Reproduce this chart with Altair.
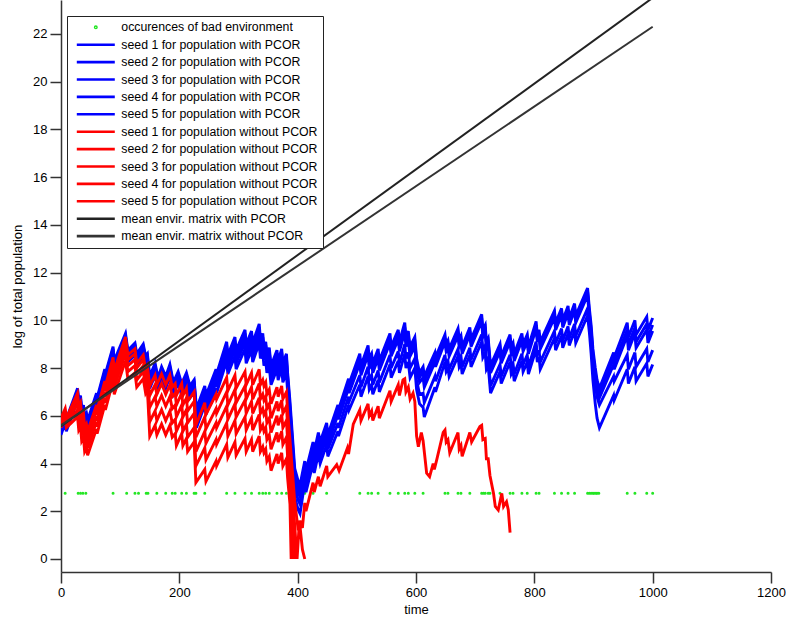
import altair as alt
import pandas as pd

# ---- runs with PCOR: shared time vertices, one value list per seed ----
pcor_time = [
    0, 7, 9, 28, 30, 33, 35, 38, 40, 43, 45, 60, 61, 74, 75, 88, 90, 109, 113, 125, 128, 139, 143, 146,
    150, 159, 164, 170, 177, 184, 190, 198, 204, 212, 218, 225,
    229, 243, 245, 262, 263, 280, 282, 294, 296, 311, 313, 322, 324, 335, 337, 341, 343, 346, 348,
    352, 355, 365, 367, 373, 375, 381, 383,
    387, 395, 401, 404,
    412, 414, 426, 428, 435, 438, 449, 451, 468, 469, 486, 487,
    505, 507, 519, 521, 525, 527, 536, 538, 556, 558, 570, 572, 581, 583, 587, 590, 598, 601, 606,
    612, 614, 632, 633,
    649, 651, 654, 656, 671, 673, 676, 678, 691, 693, 711, 713, 717, 719, 722, 726, 742, 744,
    759, 761, 764, 766, 779, 781, 788, 790, 803, 805, 808, 810, 834, 836, 846, 848, 857, 859,
    868, 870, 890,
    893, 896, 899, 903, 906, 910,
    934, 935, 957, 959, 970, 972, 990, 992, 1000,
]
pcor_seed1 = [
    5.70, 6.20, 5.85, 7.15, 6.65, 6.85, 6.25, 6.45, 5.95, 6.10, 5.80, 6.95, 6.75, 7.95, 7.75, 8.90, 8.30, 9.45, 8.75, 9.05, 8.60, 9.00, 8.50, 8.60,
    7.65, 8.20, 7.60, 8.05, 7.65, 8.15, 7.40, 7.85, 7.35, 7.80, 7.25, 7.50,
    6.30, 7.25, 6.85, 7.95, 7.75, 9.10, 8.55, 9.30, 8.75, 9.60, 9.00, 9.55, 9.05, 9.85, 9.20, 9.45, 8.90, 9.10, 8.60,
    8.85, 8.10, 8.75, 8.30, 8.80, 8.20, 8.60, 7.80,
    6.60, 3.80, 3.25, 3.10,
    4.10, 3.70, 4.90, 4.50, 5.30, 4.90, 5.70, 5.20, 6.45, 6.25, 7.55, 7.35,
    8.60, 8.10, 8.95, 8.40, 8.60, 8.20, 8.80, 8.30, 9.45, 8.90, 9.60, 9.10, 9.90, 9.30, 9.55, 8.90, 9.30, 8.40, 7.80,
    8.05, 7.65, 8.65, 8.45,
    9.40, 9.00, 9.15, 8.80, 9.65, 9.20, 9.35, 8.90, 9.70, 9.20, 10.25, 9.60, 9.80, 9.10, 9.25, 8.10, 9.00, 8.50,
    9.40, 8.90, 9.05, 8.60, 9.45, 9.00, 9.40, 8.90, 9.95, 9.40, 9.60, 9.10, 10.40, 9.90, 10.50, 10.00, 10.60, 10.10,
    10.70, 10.20, 11.35,
    10.50, 9.80, 8.80, 8.00, 7.50, 7.15,
    8.65, 8.45, 9.90, 9.30, 10.00, 9.40, 10.15, 9.60, 10.10,
]
pcor_seed2 = [
    5.60, 6.10, 5.75, 7.05, 6.55, 6.75, 6.15, 6.35, 5.85, 6.00, 5.70, 6.85, 6.65, 7.85, 7.65, 8.80, 8.20, 9.35, 8.65, 8.95, 8.50, 8.90, 8.40, 8.50,
    7.55, 8.10, 7.50, 7.95, 7.55, 8.05, 7.30, 7.75, 7.25, 7.70, 7.15, 7.40,
    6.15, 7.10, 6.70, 7.80, 7.60, 8.95, 8.40, 9.15, 8.60, 9.45, 8.85, 9.40, 8.90, 9.70, 9.05, 9.30, 8.75, 8.95, 8.45,
    8.70, 7.95, 8.60, 8.15, 8.65, 8.05, 8.45, 7.65,
    6.35, 3.55, 3.00, 2.85,
    3.90, 3.50, 4.70, 4.30, 5.10, 4.70, 5.50, 5.00, 6.25, 6.05, 7.35, 7.15,
    8.40, 7.90, 8.75, 8.20, 8.40, 8.00, 8.60, 8.10, 9.25, 8.70, 9.40, 8.90, 9.70, 9.10, 9.35, 8.70, 9.10, 8.20, 7.60,
    7.85, 7.45, 8.45, 8.25,
    9.25, 8.85, 9.00, 8.65, 9.50, 9.05, 9.20, 8.75, 9.55, 9.05, 10.10, 9.45, 9.65, 8.95, 9.10, 7.95, 8.85, 8.35,
    9.25, 8.75, 8.90, 8.45, 9.30, 8.85, 9.25, 8.75, 9.80, 9.25, 9.45, 8.95, 10.25, 9.75, 10.35, 9.85, 10.45, 9.95,
    10.55, 10.05, 11.20,
    10.30, 9.60, 8.60, 7.80, 7.30, 6.95,
    8.40, 8.20, 9.60, 9.00, 9.70, 9.10, 9.85, 9.30, 9.80,
]
pcor_seed3 = [
    5.50, 6.00, 5.65, 6.95, 6.45, 6.65, 6.05, 6.25, 5.75, 5.90, 5.60, 6.75, 6.55, 7.75, 7.55, 8.70, 8.10, 9.25, 8.55, 8.85, 8.40, 8.80, 8.30, 8.40,
    7.45, 8.00, 7.40, 7.85, 7.45, 7.95, 7.20, 7.65, 7.15, 7.60, 7.05, 7.30,
    5.95, 6.90, 6.50, 7.60, 7.40, 8.75, 8.20, 8.95, 8.40, 9.25, 8.65, 9.20, 8.70, 9.50, 8.85, 9.10, 8.55, 8.75, 8.25,
    8.50, 7.75, 8.40, 7.95, 8.45, 7.85, 8.25, 7.45,
    6.10, 3.30, 2.75, 2.60,
    3.70, 3.30, 4.50, 4.10, 4.90, 4.50, 5.30, 4.80, 6.05, 5.85, 7.15, 6.95,
    8.20, 7.70, 8.55, 8.00, 8.20, 7.80, 8.40, 7.90, 9.05, 8.50, 9.20, 8.70, 9.50, 8.90, 9.15, 8.50, 8.90, 8.00, 7.40,
    7.60, 7.20, 8.25, 8.05,
    9.10, 8.70, 8.85, 8.50, 9.35, 8.90, 9.05, 8.60, 9.40, 8.90, 9.95, 9.30, 9.50, 8.80, 8.95, 7.80, 8.70, 8.20,
    9.10, 8.60, 8.75, 8.30, 9.15, 8.70, 9.10, 8.60, 9.65, 9.10, 9.30, 8.80, 10.10, 9.60, 10.20, 9.70, 10.30, 9.80,
    10.40, 9.90, 11.05,
    10.10, 9.40, 8.40, 7.60, 7.10, 6.75,
    8.15, 7.95, 9.35, 8.75, 9.45, 8.85, 9.60, 9.05, 9.55,
]
pcor_seed4 = [
    5.35, 5.85, 5.50, 6.80, 6.30, 6.50, 5.90, 6.10, 5.60, 5.75, 5.45, 6.60, 6.40, 7.60, 7.40, 8.55, 7.95, 9.10, 8.40, 8.70, 8.25, 8.65, 8.15, 8.25,
    7.30, 7.85, 7.25, 7.70, 7.30, 7.80, 7.05, 7.50, 7.00, 7.45, 6.90, 7.15,
    5.75, 6.70, 6.30, 7.40, 7.20, 8.55, 8.00, 8.75, 8.20, 9.05, 8.45, 9.00, 8.50, 9.30, 8.65, 8.90, 8.35, 8.55, 8.05,
    8.30, 7.55, 8.20, 7.75, 8.25, 7.65, 8.05, 7.25,
    5.80, 3.00, 2.45, 2.30,
    3.50, 3.10, 4.30, 3.90, 4.70, 4.30, 5.10, 4.60, 5.70, 5.50, 6.80, 6.60,
    7.70, 7.20, 8.05, 7.50, 7.70, 7.30, 7.90, 7.40, 8.55, 8.00, 8.70, 8.20, 9.00, 8.40, 8.65, 8.00, 8.40, 7.50, 6.90,
    6.95, 6.55, 7.65, 7.45,
    8.55, 8.15, 8.30, 7.95, 8.80, 8.35, 8.50, 8.05, 8.85, 8.35, 9.40, 8.75, 8.95, 8.25, 8.40, 7.25, 8.15, 7.65,
    8.55, 8.05, 8.20, 7.75, 8.60, 8.15, 8.55, 8.05, 9.10, 8.55, 8.75, 8.25, 9.55, 9.05, 9.65, 9.15, 9.75, 9.25,
    9.85, 9.35, 10.50,
    9.80, 9.10, 8.10, 7.30, 6.80, 6.45,
    7.65, 7.45, 8.55, 7.95, 8.65, 8.05, 8.80, 8.25, 8.75,
]
pcor_seed5 = [
    5.20, 5.70, 5.35, 6.65, 6.15, 6.35, 5.75, 5.95, 5.45, 5.60, 5.30, 6.45, 6.25, 7.45, 7.25, 8.40, 7.80, 8.95, 8.25, 8.55, 8.10, 8.50, 8.00, 8.10,
    7.15, 7.70, 7.10, 7.55, 7.15, 7.65, 6.90, 7.35, 6.85, 7.30, 6.75, 7.00,
    5.50, 6.45, 6.05, 7.15, 6.95, 8.30, 7.75, 8.50, 7.95, 8.80, 8.20, 8.75, 8.25, 9.05, 8.40, 8.65, 8.10, 8.30, 7.80,
    8.05, 7.30, 7.95, 7.50, 8.00, 7.40, 7.80, 7.00,
    5.40, 2.60, 2.05, 1.90,
    3.20, 2.80, 4.00, 3.60, 4.40, 4.00, 4.80, 4.30, 5.35, 5.15, 6.45, 6.25,
    7.30, 6.80, 7.65, 7.10, 7.30, 6.90, 7.50, 7.00, 8.15, 7.60, 8.30, 7.80, 8.60, 8.00, 8.25, 7.60, 8.00, 7.10, 6.50,
    6.35, 5.95, 7.20, 7.00,
    8.25, 7.85, 8.00, 7.65, 8.50, 8.05, 8.20, 7.75, 8.55, 8.05, 9.10, 8.45, 8.65, 7.95, 8.10, 6.95, 7.85, 7.35,
    8.25, 7.75, 7.90, 7.45, 8.30, 7.85, 8.25, 7.75, 8.80, 8.25, 8.45, 7.95, 9.25, 8.75, 9.35, 8.85, 9.45, 8.95,
    9.55, 9.05, 10.20,
    9.50, 8.60, 7.50, 6.50, 5.90, 5.50,
    6.85, 6.65, 7.95, 7.35, 8.05, 7.45, 8.20, 7.65, 8.15,
]

# ---- runs without PCOR: common vertices up to the collapse, then each run's own tail ----
nopcor_time_head = [
    0, 7, 9, 28, 30, 33, 35, 38, 40, 43, 45, 60, 61, 74, 75, 88, 90, 109, 113, 125, 128, 139, 143, 146,
    150, 159, 162, 170, 177, 184, 188, 193, 195, 204, 206, 212, 214, 225, 228,
    243, 245, 262, 263, 280, 282, 294, 296, 311, 313, 322, 324, 335, 337, 341, 343, 346, 348, 352, 355,
    365, 367, 373, 375, 381, 383,
]
nopcor_seed1_head = [
    5.90, 6.30, 5.90, 6.95, 6.40, 6.55, 5.95, 6.10, 5.50, 5.65, 5.35, 6.45, 6.25, 7.45, 7.25, 8.45, 7.90, 9.30, 8.55, 8.80, 8.20, 8.55, 7.95, 8.10,
    7.25, 7.70, 7.30, 7.75, 7.30, 7.70, 7.20, 7.35, 6.85, 7.35, 6.85, 7.15, 6.60, 7.00, 5.60,
    6.55, 6.05, 6.90, 6.70, 7.60, 7.05, 7.70, 7.15, 7.85, 7.30, 7.80, 7.30, 7.95, 7.30, 7.50, 7.25, 7.40, 6.90, 7.10, 6.50,
    7.20, 6.80, 7.25, 6.70, 7.00, 6.20,
]
nopcor_seed2_head = [
    5.80, 6.20, 5.80, 6.75, 6.20, 6.35, 5.75, 5.90, 5.30, 5.45, 5.15, 6.25, 6.05, 7.25, 7.05, 8.25, 7.70, 9.10, 8.35, 8.60, 8.00, 8.35, 7.75, 7.90,
    6.85, 7.30, 6.90, 7.35, 6.90, 7.30, 6.80, 6.95, 6.45, 6.95, 6.45, 6.75, 6.20, 6.60, 5.10,
    5.95, 5.45, 6.30, 6.10, 7.00, 6.45, 7.10, 6.55, 7.25, 6.70, 7.20, 6.70, 7.35, 6.70, 6.90, 6.65, 6.80, 6.30, 6.50, 5.90,
    6.60, 6.20, 6.65, 6.10, 6.40, 5.60,
]
nopcor_seed3_head = [
    5.70, 6.10, 5.70, 6.50, 5.95, 6.10, 5.50, 5.65, 5.05, 5.20, 4.90, 6.00, 5.80, 7.00, 6.80, 8.00, 7.45, 8.85, 8.10, 8.35, 7.75, 8.10, 7.50, 7.65,
    6.35, 6.80, 6.40, 6.85, 6.40, 6.80, 6.30, 6.45, 5.95, 6.45, 5.95, 6.25, 5.70, 6.10, 4.50,
    5.35, 4.85, 5.70, 5.50, 6.40, 5.85, 6.50, 5.95, 6.65, 6.10, 6.60, 6.10, 6.75, 6.10, 6.30, 6.05, 6.20, 5.70, 5.90, 5.30,
    6.00, 5.60, 6.05, 5.50, 5.80, 5.00,
]
nopcor_seed4_head = [
    5.60, 6.00, 5.60, 6.25, 5.70, 5.85, 5.25, 5.40, 4.80, 4.95, 4.65, 5.75, 5.55, 6.75, 6.55, 7.75, 7.20, 8.60, 7.85, 8.10, 7.50, 7.85, 7.25, 7.40,
    5.75, 6.20, 5.80, 6.25, 5.80, 6.20, 5.70, 5.85, 5.35, 5.85, 5.35, 5.65, 5.10, 5.50, 3.90,
    4.65, 4.15, 5.00, 4.80, 5.70, 5.15, 5.80, 5.25, 5.95, 5.40, 5.90, 5.40, 6.05, 5.40, 5.60, 5.35, 5.50, 5.00, 5.20, 4.60,
    5.30, 4.90, 5.35, 4.80, 5.10, 4.30,
]
nopcor_seed5_head = [
    5.50, 5.90, 5.50, 5.95, 5.40, 5.55, 4.95, 5.10, 4.50, 4.65, 4.35, 5.45, 5.25, 6.45, 6.25, 7.45, 6.90, 8.30, 7.55, 7.80, 7.20, 7.55, 6.95, 7.10,
    5.15, 5.60, 5.20, 5.65, 5.20, 5.60, 5.10, 5.25, 4.75, 5.25, 4.75, 5.05, 4.50, 4.90, 3.20,
    3.75, 3.25, 4.10, 3.90, 4.80, 4.25, 4.90, 4.35, 5.05, 4.50, 5.00, 4.50, 5.15, 4.50, 4.70, 4.45, 4.60, 4.10, 4.30, 3.70,
    4.40, 4.00, 4.45, 3.90, 4.20, 3.40,
]

nopcor_seed1_tail_time = [
    387, 395, 401, 404, 408, 412, 414, 426, 428, 435, 438, 449, 451, 466, 470, 484, 486, 494,
    505, 507, 519, 521, 525, 527, 536, 538, 556, 558, 570, 572, 578, 581, 583, 587, 590, 595, 598,
    601, 604, 609, 612, 618, 623, 629, 631, 635, 646, 649, 651, 654, 657, 671, 673, 676, 678,
    691, 694, 708, 711, 713, 717, 719, 722, 725, 731, 734, 739, 745, 748, 753, 756, 759,
]
nopcor_seed1_tail = [
    5.00, 2.40, 1.20, 1.60, 1.30, 2.35, 2.00, 3.20, 2.80, 3.45, 3.05, 3.90, 3.45, 3.95, 3.70, 4.65, 4.40, 5.65,
    6.25, 5.80, 6.50, 6.00, 6.20, 5.80, 6.40, 5.90, 7.05, 6.60, 7.30, 6.85, 7.50, 7.55, 7.00, 7.20, 6.70, 6.95, 6.60,
    5.15, 4.70, 5.30, 4.95, 3.60, 3.45, 4.00, 3.75, 4.15, 5.30, 5.40, 4.90, 5.00, 4.45, 5.30, 4.60, 4.75, 4.30,
    5.30, 4.90, 5.55, 5.60, 5.00, 5.05, 4.20, 4.20, 3.50, 2.75, 2.20, 2.05, 2.75, 2.20, 2.40, 2.05, 1.10,
]
nopcor_seed2_tail_time = [387, 395, 399, 403, 408, 412]
nopcor_seed2_tail = [4.40, 1.40, 0.00, 1.60, 0.40, 0.00]
nopcor_seed3_tail_time = [387, 393, 396]
nopcor_seed3_tail = [3.80, 1.00, 0.00]
nopcor_seed4_tail_time = [387, 390, 392]
nopcor_seed4_tail = [3.10, 1.00, 0.00]
nopcor_seed5_tail_time = [387, 389]
nopcor_seed5_tail = [2.30, 0.00]

# ---- growth under the mean environment matrix (straight lines) ----
mean_time = [0, 1000]
mean_with_pcor = [5.55, 23.51]
mean_without_pcor = [5.60, 22.30]

# ---- time steps with a bad environment ----
bad_times = [
    7, 29, 33, 37, 42, 88, 111, 125, 131, 144, 147, 162, 177, 188, 193, 204, 212, 225, 228, 243,
    280, 294, 311, 322, 335, 341, 346, 352, 365, 373, 381, 395, 398, 401, 412, 426, 449,
    505, 519, 525, 536, 556, 570, 581, 587, 598, 612, 649, 654, 671, 676, 691, 711, 714, 717,
    722, 725, 742, 759, 764, 779, 788, 803, 808, 834, 846, 857, 868, 890, 893, 896, 899, 901,
    904, 906, 909, 957, 970, 990, 1000,
]
bad_level = 2.75

BAD = "occurences of bad environment"
with_names = [f"seed {i} for population with PCOR" for i in range(1, 6)]
without_names = [f"seed {i} for population without PCOR" for i in range(1, 6)]
MEAN_WITH = "mean envir. matrix with PCOR"
MEAN_WITHOUT = "mean envir. matrix without PCOR"

labels = [BAD] + with_names + without_names + [MEAN_WITH, MEAN_WITHOUT]
palette = ["#22e622"] + ["#0000ff"] * 5 + ["#ff0000"] * 5 + ["#222222", "#333333"]
shapes = ["circle"] + ["stroke"] * 12
sizes = [2] + [1444] * 12


def frame(name, times, values):
    assert len(times) == len(values), name
    return pd.DataFrame({"time": times, "logpop": values, "series": name})


with_runs = [pcor_seed1, pcor_seed2, pcor_seed3, pcor_seed4, pcor_seed5]
df_with = pd.concat([frame(n, pcor_time, v) for n, v in zip(with_names, with_runs)])

without_runs = [
    (nopcor_time_head + nopcor_seed1_tail_time, nopcor_seed1_head + nopcor_seed1_tail),
    (nopcor_time_head + nopcor_seed2_tail_time, nopcor_seed2_head + nopcor_seed2_tail),
    (nopcor_time_head + nopcor_seed3_tail_time, nopcor_seed3_head + nopcor_seed3_tail),
    (nopcor_time_head + nopcor_seed4_tail_time, nopcor_seed4_head + nopcor_seed4_tail),
    (nopcor_time_head + nopcor_seed5_tail_time, nopcor_seed5_head + nopcor_seed5_tail),
]
df_without = pd.concat([frame(n, t, v) for n, (t, v) in zip(without_names, without_runs)])

df_mean = pd.concat([
    frame(MEAN_WITH, mean_time, mean_with_pcor),
    frame(MEAN_WITHOUT, mean_time, mean_without_pcor),
])
df_bad = frame(BAD, bad_times, [bad_level] * len(bad_times))

FONT = "Liberation Sans"

legend = alt.Legend(
    title=None,
    orient="none",
    legendX=6,
    legendY=16,
    symbolType="stroke",
    symbolStrokeWidth=2.6,
    symbolOpacity=1,
    symbolOffset=3,
    clipHeight=12,
    labelFont=FONT,
    labelFontSize=12.3,
    labelColor="black",
    labelOffset=5,
    labelLimit=400,
    rowPadding=4.4,
    padding=5.3,
    fillColor="white",
    strokeColor="#222222",
)

color = alt.Color("series:N", scale=alt.Scale(domain=labels, range=palette), legend=legend)
shape = alt.Shape("series:N", scale=alt.Scale(domain=labels, range=shapes), legend=legend)
size = alt.Size("series:N", scale=alt.Scale(type="ordinal", domain=labels, range=sizes), legend=legend)

x = alt.X(
    "time:Q",
    scale=alt.Scale(domain=[0, 1200], nice=False, zero=False),
    axis=alt.Axis(values=[0, 200, 400, 600, 800, 1000, 1200], format="d", title="time", titlePadding=4),
)
y = alt.Y(
    "logpop:Q",
    scale=alt.Scale(domain=[-0.545, 23.42], nice=False, zero=False),
    axis=alt.Axis(values=list(range(0, 23, 2)), format="d", title="log of total population", titlePadding=8),
)

bad_layer = alt.Chart(df_bad).mark_point(filled=False, strokeWidth=1.6, opacity=1).encode(
    x=x, y=y, color=color, shape=shape, size=size
)
with_layer = alt.Chart(df_with).mark_line(strokeWidth=2.9, clip=True).encode(
    x=x, y=y, color=color, detail="series:N", order="time:Q"
)
without_layer = alt.Chart(df_without).mark_line(strokeWidth=2.9, clip=True).encode(
    x=x, y=y, color=color, detail="series:N", order="time:Q"
)
mean_layer = alt.Chart(df_mean).mark_line(strokeWidth=2, clip=True).encode(
    x=x, y=y, color=color, detail="series:N", order="time:Q"
)

chart = (
    alt.layer(bad_layer, with_layer, without_layer, mean_layer)
    .properties(
        width=710,
        height=572,
        autosize="none",
        padding={"left": 61, "top": 0, "right": 15, "bottom": 45},
        background="white",
    )
    .configure_view(stroke=None)
    .configure_axis(
        grid=False,
        domainColor="#333333",
        domainWidth=1.5,
        tickColor="#333333",
        tickWidth=1.5,
        tickSize=11,
        labelPadding=3,
        labelFont=FONT,
        labelFontSize=13,
        labelColor="black",
        labelFlush=False,
        labelOverlap=False,
        titleFont=FONT,
        titleFontSize=13,
        titleFontWeight="normal",
        titleColor="black",
    )
)

chart.save("out.html", embed_options={"renderer": "svg", "actions": False})
